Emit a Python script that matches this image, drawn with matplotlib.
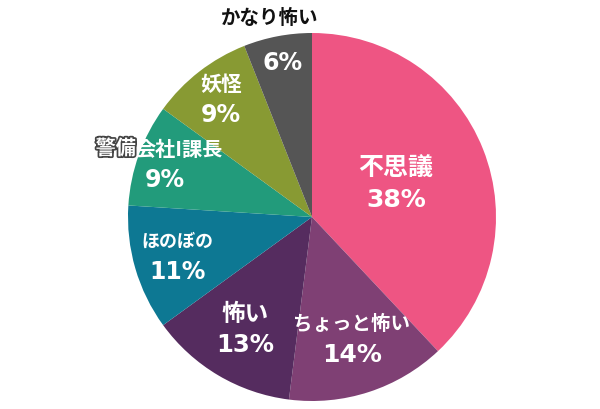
import matplotlib
matplotlib.use("Agg")
import matplotlib.pyplot as plt
import matplotlib.patheffects as pe
import numpy as np

plt.rcParams['font.family'] = ['Noto Sans CJK JP', 'DejaVu Sans']

labels = ["不思議", "ちょっと怖い", "怖い", "ほのぼの", "警備会社I課長", "妖怪", "かなり怖い"]
values = [38, 14, 13, 11, 9, 9, 6]
colors = ["#EE5583", "#7F4074", "#552C5F", "#0D7893", "#229B7B", "#889A33", "#555555"]
label_dist = [0.49, 0.70, 0.71, 0.76, 0.85, 0.81, 0.86]
name_sizes = [18, 14, 17, 13, 14.5, 15, 14]
pct_sizes = [18, 18, 17.5, 17, 17, 17, 17]

PX = 0.72  # points per pixel at dpi 100

fig = plt.figure(figsize=(6, 4.1), dpi=100)
ax = fig.add_axes([128/600, 8/410, 368/600, 368/410])
wedges, _ = ax.pie(values, colors=colors, startangle=90, counterclock=False,
                   radius=1.0, wedgeprops=dict(linewidth=0))
ax.set_xlim(-1, 1)
ax.set_ylim(-1, 1)
ax.set_aspect('equal')
ax.axis('off')

pct_font = dict(family='DejaVu Sans', fontweight='bold', color='white')

for i, w in enumerate(wedges):
    ang = np.deg2rad((w.theta1 + w.theta2) / 2)
    d = label_dist[i]
    x, y = d * np.cos(ang), d * np.sin(ang)
    pct = f"{values[i]}%"
    if labels[i] == "かなり怖い":
        ax.annotate(pct, (x, y), ha='center', va='center', fontsize=pct_sizes[i], **pct_font)
        ax.annotate(labels[i], (x, y), xytext=(-13 * PX, 44 * PX), textcoords='offset points',
                    ha='center', va='center', color='#111111', fontsize=name_sizes[i],
                    fontweight='bold', annotation_clip=False)
        continue
    ax.annotate(pct, (x, y), xytext=(0, -15 * PX), textcoords='offset points',
                ha='center', va='center', fontsize=pct_sizes[i], **pct_font)
    if labels[i] == "警備会社I課長":
        ax.annotate(pct, (x, y), xytext=(0, -15 * PX), textcoords='offset points',
                    ha='center', va='center', fontsize=pct_sizes[i], alpha=0, **pct_font)
        ax.annotate(labels[i][:2], (x, y), xytext=(-29 * PX, 16 * PX), textcoords='offset points',
                    ha='right', va='center', color='white', fontsize=name_sizes[i],
                    fontweight='bold', annotation_clip=False,
                    path_effects=[pe.withStroke(linewidth=2.5, foreground='#444444')])
        ax.annotate(labels[i][2:], (x, y), xytext=(-29 * PX, 16 * PX), textcoords='offset points',
                    ha='left', va='center', color='white', fontsize=name_sizes[i],
                    fontweight='bold', annotation_clip=False)
    else:
        ax.annotate(labels[i], (x, y), xytext=(0, 16 * PX), textcoords='offset points',
                    ha='center', va='center', color='white', fontsize=name_sizes[i],
                    fontweight='bold')

fig.savefig("out.png", dpi=100)
